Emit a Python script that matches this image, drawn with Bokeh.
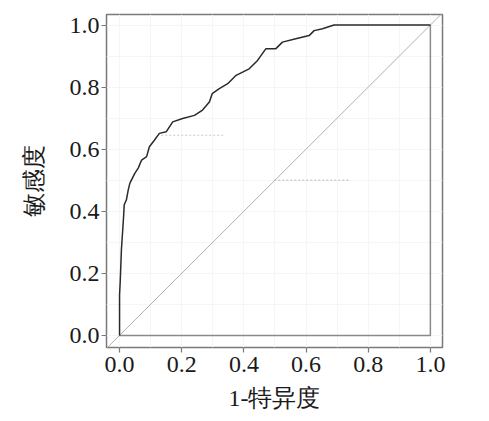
from bokeh.plotting import figure
from bokeh.models import FixedTicker, NumeralTickFormatter, Range1d
from bokeh.embed import file_html
from bokeh.resources import INLINE

# ROC curve (1-specificity, sensitivity)
fpr = [0, 0, 0.002, 0.006, 0.013, 0.015, 0.022, 0.028, 0.033, 0.049, 0.06, 0.071,
       0.087, 0.096, 0.112, 0.128, 0.15, 0.171, 0.203, 0.241, 0.267, 0.289, 0.298,
       0.321, 0.348, 0.375, 0.417, 0.444, 0.471, 0.503, 0.524, 0.567, 0.61, 0.626,
       0.653, 0.69, 1.0]
tpr = [0, 0.13, 0.17, 0.276, 0.383, 0.421, 0.437, 0.469, 0.49, 0.522, 0.539, 0.565,
       0.576, 0.608, 0.629, 0.651, 0.656, 0.688, 0.699, 0.709, 0.726, 0.752, 0.779,
       0.795, 0.811, 0.838, 0.859, 0.886, 0.924, 0.924, 0.945, 0.956, 0.966, 0.982,
       0.988, 1.0, 1.0]

# reference diagonal and the unit box
diag = [-0.05, 1.05]
box_x = [0, 1, 1]
box_y = [0, 0, 1]

# faint dashed marks
mark1_x = [0.134, 0.337]
mark1_y = [0.645, 0.645]
mark2_x = [0.498, 0.738]
mark2_y = [0.5, 0.5]

ticks = [0.0, 0.2, 0.4, 0.6, 0.8, 1.0]
grid_ticks = [0.0, 0.1, 0.2, 0.3, 0.4, 0.5, 0.6, 0.7, 0.8, 0.9, 1.0]

x_label = "1-特异度"
y_label = "敏感度"

FONT = "Liberation Serif"

p = figure(frame_width=336, frame_height=333,
           x_range=Range1d(-0.042, 1.039), y_range=Range1d(-0.039, 1.034),
           output_backend="svg", toolbar_location=None,
           min_border_left=106, min_border_top=14, min_border_right=30, min_border_bottom=60,
           background_fill_color="white", border_fill_color="white")

p.outline_line_color = "#7a7a7a"
p.outline_line_width = 1.5

for g in (p.xgrid, p.ygrid):
    g.ticker = FixedTicker(ticks=grid_ticks)
    g.grid_line_color = "#f5f5f5"
    g.grid_line_width = 1

for ax in (p.xaxis, p.yaxis):
    ax.ticker = FixedTicker(ticks=ticks)
    ax.formatter = NumeralTickFormatter(format="0.0")
    ax.axis_line_color = None
    ax.major_tick_line_color = "#7a7a7a"
    ax.major_tick_line_width = 1.2
    ax.major_tick_out = 5
    ax.major_tick_in = 0
    ax.minor_tick_line_color = None
    ax.major_label_text_font = FONT
    ax.major_label_text_font_size = "24px"
    ax.major_label_text_color = "#1a1a1a"
    ax.axis_label_text_font = FONT
    ax.axis_label_text_font_size = "24px"
    ax.axis_label_text_font_style = "normal"
    ax.axis_label_text_color = "#1a1a1a"

p.xaxis.axis_label = x_label
p.yaxis.axis_label = y_label
p.xaxis.major_label_standoff = 4
p.yaxis.major_label_standoff = 2
p.xaxis.axis_label_standoff = 10
p.yaxis.axis_label_standoff = 20

p.line(diag, diag, line_color="#b0b0b0", line_width=1)
p.line(box_x, box_y, line_color="#8a8a8a", line_width=1.5)
p.line(mark1_x, mark1_y, line_color="#c8c8c8", line_width=1, line_dash="2 2")
p.line(mark2_x, mark2_y, line_color="#b8b8b8", line_width=1, line_dash="2 2")
p.line(fpr, tpr, line_color="#2a2a2a", line_width=1.5)

open("out.html", "w").write(file_html(p, INLINE))
